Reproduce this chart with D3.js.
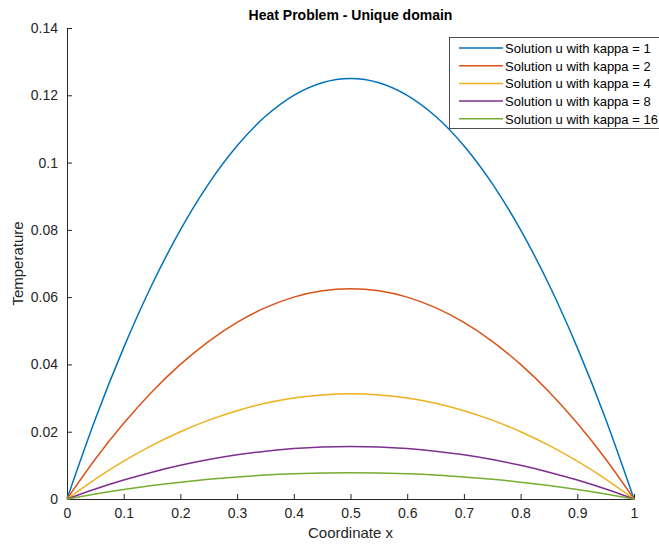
<!DOCTYPE html>
<html><head><meta charset="utf-8">
<script src="https://cdn.jsdelivr.net/npm/d3@7"></script>
<style>
html,body{margin:0;padding:0;background:#fff;overflow:hidden}
text{font-family:"Liberation Sans",Arial,Helvetica,sans-serif}
</style></head>
<body><svg id="c" width="659" height="544"></svg>
<script>
const xs = [0,0.05,0.1,0.15,0.2,0.25,0.3,0.35,0.4,0.45,0.5,0.55,0.6,0.65,0.7,0.75,0.8,0.85,0.9,0.95,1];
const kappa1 = [0,0.02375,0.045,0.06375,0.08,0.09375,0.105,0.11375,0.12,0.12375,0.125,0.12375,0.12,0.11375,0.105,0.09375,0.08,0.06375,0.045,0.02375,0];
const kappa2 = [0,0.011875,0.0225,0.031875,0.04,0.046875,0.0525,0.056875,0.06,0.061875,0.0625,0.061875,0.06,0.056875,0.0525,0.046875,0.04,0.031875,0.0225,0.011875,0];
const kappa4 = [0,0.00594,0.01125,0.01594,0.02,0.02344,0.02625,0.02844,0.03,0.03094,0.03125,0.03094,0.03,0.02844,0.02625,0.02344,0.02,0.01594,0.01125,0.00594,0];
const kappa8 = [0,0.00297,0.005625,0.00797,0.01,0.01172,0.013125,0.01422,0.015,0.01547,0.015625,0.01547,0.015,0.01422,0.013125,0.01172,0.01,0.00797,0.005625,0.00297,0];
const kappa16 = [0,0.00148,0.00281,0.00398,0.005,0.00586,0.00656,0.00711,0.0075,0.00773,0.00781,0.00773,0.0075,0.00711,0.00656,0.00586,0.005,0.00398,0.00281,0.00148,0];
const seriesNames = ["Solution u with kappa = 1","Solution u with kappa = 2","Solution u with kappa = 4","Solution u with kappa = 8","Solution u with kappa = 16"];
const seriesValues = [kappa1,kappa2,kappa4,kappa8,kappa16];
const colors = ["#0072BD","#D95319","#EDB120","#7E2F8E","#77AC30"];
const xTicks = [0,0.1,0.2,0.3,0.4,0.5,0.6,0.7,0.8,0.9,1];
const yTicks = [0,0.02,0.04,0.06,0.08,0.1,0.12,0.14];
const titleText = "Heat Problem - Unique domain";
const xLabel = "Coordinate x";
const yLabel = "Temperature";

const svg = d3.select("#c");
const L=67, R=634, T=28, B=499;
const x = d3.scaleLinear().domain([0,1]).range([L,R]);
const y = d3.scaleLinear().domain([0,0.14]).range([B,T]);
const axisColor="#262626";

const gx = svg.append("g").attr("transform",`translate(0,${B})`)
  .call(d3.axisBottom(x).tickValues(xTicks).tickFormat(d=>String(+d.toFixed(2))).tickSizeInner(-5).tickSizeOuter(0).tickPadding(9));
const gy = svg.append("g").attr("transform",`translate(${L},0)`)
  .call(d3.axisLeft(y).tickValues(yTicks).tickFormat(d=>String(+d.toFixed(2))).tickSizeInner(-5).tickSizeOuter(0).tickPadding(9));
[gx,gy].forEach(g=>{
  g.select(".domain").attr("stroke",axisColor).attr("stroke-width",1);
  g.selectAll(".tick line").attr("stroke",axisColor);
  g.selectAll(".tick text").attr("fill",axisColor).style("font-size","14px").style("font-family","'Liberation Sans',Arial,sans-serif");
});

const line = d3.line().x((d,i)=>x(xs[i])).y(d=>y(d)).curve(d3.curveNatural);
seriesValues.forEach((vals,k)=>{
  svg.append("path").datum(vals).attr("d",line).attr("fill","none")
    .attr("stroke",colors[k]).attr("stroke-width",1.5);
});

svg.append("text").attr("x",(L+R)/2).attr("y",20).attr("text-anchor","middle")
  .style("font-size","14px").style("font-weight","bold").attr("fill","#000").text(titleText);
svg.append("text").attr("x",(L+R)/2).attr("y",538).attr("text-anchor","middle")
  .style("font-size","15px").attr("fill",axisColor).text(xLabel);
svg.append("text").attr("transform",`translate(23,${(T+B)/2}) rotate(-90)`).attr("text-anchor","middle")
  .style("font-size","15px").attr("fill",axisColor).text(yLabel);

// legend
const lg = svg.append("g");
lg.append("rect").attr("x",449.5).attr("y",37.5).attr("width",240).attr("height",91)
  .attr("fill","#fff").attr("stroke","#262626").attr("stroke-width",0.8);
seriesNames.forEach((n,k)=>{
  const yy = 48 + k*17.7;
  lg.append("line").attr("x1",459).attr("x2",503).attr("y1",yy).attr("y2",yy)
    .attr("stroke",colors[k]).attr("stroke-width",1.5);
  lg.append("text").attr("x",505).attr("y",yy+5).style("font-size","13px").attr("fill","#000").text(n);
});
</script></body></html>
